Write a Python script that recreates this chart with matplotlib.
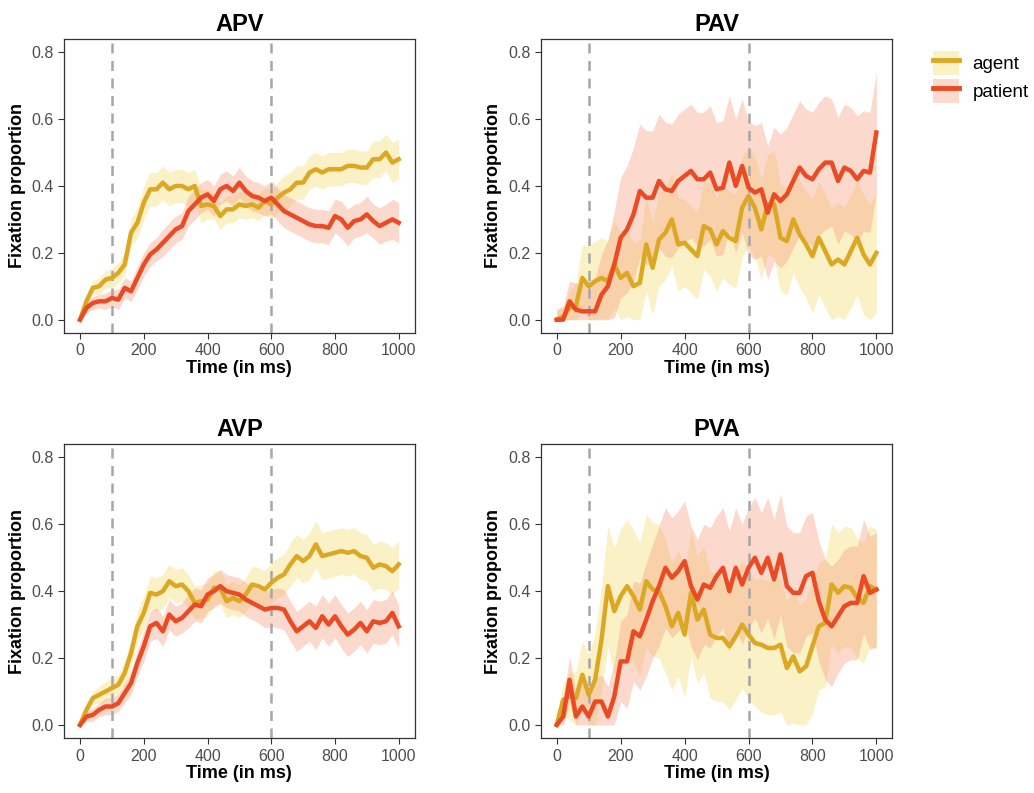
import numpy as np
import matplotlib
matplotlib.use('Agg')
import matplotlib.pyplot as plt
from matplotlib.patches import Patch
from matplotlib.lines import Line2D

plt.rcParams['font.family'] = ['Liberation Sans', 'DejaVu Sans']

#time bins, one sample every 20 ms
time_ms = np.arange(0, 1001, 20)

apv_agent = [0.0,0.055,0.095,0.10,0.12,0.125,0.14,0.165,0.26,0.29,0.35,
             0.39,0.39,0.41,0.39,0.40,0.40,0.39,0.40,0.34,0.345,
             0.34,0.31,0.33,0.33,0.345,0.34,0.345,0.335,0.355,0.345,
             0.365,0.38,0.39,0.41,0.41,0.44,0.45,0.44,0.45,0.45,
             0.45,0.46,0.46,0.455,0.455,0.48,0.48,0.50,0.47,0.48]
apv_agent_hw = [0.005,0.015,0.02,0.025,0.025,0.03,0.03,0.035,0.04,0.045,0.05,
                0.05,0.05,0.05,0.05,0.05,0.05,0.05,0.05,0.05,0.045,
                0.04,0.04,0.04,0.04,0.04,0.04,0.04,0.04,0.04,0.045,
                0.045,0.05,0.05,0.05,0.05,0.05,0.05,0.05,0.05,0.05,
                0.05,0.05,0.05,0.05,0.05,0.055,0.055,0.055,0.06,0.06]
apv_patient = [0.0,0.035,0.05,0.055,0.055,0.065,0.06,0.095,0.085,0.125,0.165,
               0.195,0.21,0.23,0.25,0.27,0.28,0.325,0.345,0.365,0.375,
               0.355,0.39,0.40,0.385,0.41,0.385,0.37,0.365,0.355,0.365,
               0.345,0.325,0.315,0.305,0.295,0.285,0.28,0.28,0.275,0.31,
               0.30,0.275,0.295,0.30,0.315,0.295,0.28,0.29,0.30,0.29]
apv_patient_hw = [0.005,0.015,0.02,0.02,0.025,0.025,0.03,0.03,0.03,0.035,0.035,
                  0.035,0.035,0.04,0.04,0.04,0.04,0.045,0.045,0.045,0.045,
                  0.045,0.045,0.045,0.045,0.045,0.045,0.045,0.045,0.045,0.05,
                  0.05,0.05,0.05,0.05,0.05,0.05,0.05,0.05,0.05,0.05,
                  0.055,0.055,0.05,0.05,0.055,0.05,0.055,0.055,0.06,0.06]

pav_agent = [0.0,0.01,0.035,0.04,0.125,0.10,0.115,0.125,0.115,0.165,0.125,
             0.14,0.10,0.11,0.225,0.155,0.24,0.26,0.30,0.225,0.23,
             0.21,0.19,0.28,0.27,0.225,0.265,0.245,0.235,0.335,0.37,
             0.335,0.27,0.345,0.345,0.245,0.235,0.30,0.255,0.225,0.19,
             0.245,0.205,0.165,0.18,0.165,0.205,0.245,0.195,0.165,0.20]
pav_agent_hw = [0.03,0.03,0.05,0.07,0.1,0.12,0.12,0.12,0.12,0.13,0.13,
                0.13,0.13,0.13,0.14,0.14,0.14,0.14,0.14,0.14,0.13,
                0.13,0.13,0.13,0.14,0.14,0.14,0.14,0.14,0.15,0.15,
                0.15,0.15,0.15,0.16,0.16,0.16,0.16,0.16,0.16,0.17,
                0.17,0.17,0.17,0.17,0.17,0.17,0.17,0.18,0.18,0.18]
pav_patient = [0.0,0.0,0.055,0.03,0.025,0.025,0.025,0.075,0.10,0.165,0.245,
               0.27,0.315,0.385,0.365,0.365,0.415,0.39,0.385,0.415,0.43,
               0.445,0.42,0.42,0.44,0.39,0.395,0.47,0.40,0.46,0.395,
               0.38,0.39,0.32,0.375,0.355,0.375,0.415,0.455,0.43,0.42,
               0.45,0.47,0.47,0.415,0.455,0.445,0.42,0.445,0.44,0.56]
pav_patient_hw = [0.03,0.04,0.06,0.08,0.08,0.09,0.1,0.12,0.14,0.16,0.18,
                  0.19,0.2,0.2,0.2,0.2,0.2,0.2,0.2,0.2,0.2,
                  0.2,0.2,0.2,0.2,0.2,0.2,0.2,0.2,0.2,0.2,
                  0.2,0.2,0.2,0.2,0.2,0.2,0.2,0.2,0.2,0.2,
                  0.2,0.2,0.19,0.19,0.19,0.19,0.19,0.18,0.18,0.18]

avp_agent = [0.0,0.045,0.08,0.09,0.10,0.11,0.12,0.155,0.215,0.295,0.335,
             0.395,0.39,0.40,0.43,0.415,0.42,0.40,0.365,0.37,0.375,
             0.41,0.41,0.37,0.38,0.37,0.39,0.42,0.415,0.405,0.425,
             0.44,0.45,0.48,0.505,0.49,0.505,0.54,0.505,0.51,0.515,
             0.52,0.515,0.52,0.505,0.50,0.47,0.48,0.475,0.46,0.48]
avp_agent_hw = [0.005,0.015,0.02,0.025,0.03,0.03,0.03,0.035,0.04,0.045,0.05,
                0.05,0.05,0.05,0.05,0.05,0.05,0.05,0.05,0.05,0.05,
                0.05,0.05,0.05,0.05,0.05,0.05,0.055,0.055,0.055,0.06,
                0.06,0.06,0.065,0.065,0.065,0.07,0.07,0.07,0.07,0.07,
                0.07,0.07,0.07,0.07,0.07,0.07,0.07,0.07,0.07,0.07]
avp_patient = [0.0,0.025,0.03,0.045,0.055,0.055,0.065,0.095,0.125,0.185,0.235,
               0.295,0.305,0.28,0.33,0.31,0.32,0.34,0.36,0.355,0.39,
               0.40,0.415,0.40,0.395,0.39,0.375,0.365,0.355,0.345,0.35,
               0.35,0.345,0.31,0.28,0.295,0.31,0.29,0.325,0.30,0.325,
               0.295,0.27,0.285,0.305,0.28,0.31,0.305,0.31,0.335,0.295]
avp_patient_hw = [0.005,0.015,0.02,0.02,0.025,0.025,0.025,0.03,0.035,0.04,0.045,
                  0.045,0.045,0.045,0.045,0.045,0.045,0.05,0.05,0.05,0.05,
                  0.05,0.05,0.05,0.05,0.05,0.05,0.05,0.05,0.055,0.055,
                  0.06,0.06,0.06,0.06,0.06,0.06,0.065,0.065,0.065,0.065,
                  0.065,0.065,0.065,0.065,0.065,0.065,0.065,0.065,0.065,0.065]

pva_agent = [0.0,0.075,0.085,0.08,0.15,0.09,0.135,0.255,0.415,0.34,0.385,
             0.415,0.385,0.345,0.43,0.405,0.40,0.355,0.295,0.335,0.27,
             0.395,0.315,0.345,0.27,0.26,0.26,0.235,0.265,0.30,0.27,
             0.245,0.24,0.23,0.23,0.24,0.17,0.205,0.16,0.175,0.235,
             0.295,0.305,0.42,0.395,0.415,0.41,0.38,0.365,0.415,0.405]
pva_agent_hw = [0.02,0.05,0.07,0.08,0.1,0.12,0.14,0.16,0.18,0.19,0.2,
                0.2,0.2,0.2,0.2,0.2,0.2,0.2,0.19,0.19,0.19,
                0.19,0.19,0.19,0.19,0.19,0.19,0.19,0.19,0.19,0.19,
                0.19,0.2,0.2,0.2,0.2,0.2,0.2,0.2,0.2,0.2,
                0.19,0.19,0.18,0.18,0.18,0.18,0.18,0.18,0.18,0.18]
pva_patient = [0.0,0.025,0.135,0.025,0.055,0.025,0.07,0.07,0.025,0.085,0.19,
               0.19,0.28,0.265,0.315,0.37,0.415,0.47,0.44,0.46,0.49,
               0.415,0.375,0.42,0.41,0.445,0.47,0.40,0.47,0.42,0.47,
               0.50,0.455,0.50,0.435,0.51,0.415,0.395,0.395,0.445,0.455,
               0.37,0.315,0.295,0.325,0.355,0.365,0.365,0.445,0.395,0.405]
pva_patient_hw = [0.02,0.05,0.07,0.07,0.07,0.07,0.07,0.08,0.09,0.1,0.12,
                  0.14,0.15,0.16,0.17,0.17,0.18,0.18,0.18,0.18,0.18,
                  0.18,0.18,0.18,0.18,0.18,0.18,0.18,0.18,0.18,0.18,
                  0.18,0.18,0.18,0.18,0.18,0.18,0.18,0.18,0.18,0.18,
                  0.18,0.18,0.18,0.17,0.17,0.17,0.17,0.17,0.17,0.17]

panel_titles = ['APV', 'PAV', 'AVP', 'PVA']
series_names = ['agent', 'patient']
panels = [
    (apv_agent, apv_agent_hw, apv_patient, apv_patient_hw),
    (pav_agent, pav_agent_hw, pav_patient, pav_patient_hw),
    (avp_agent, avp_agent_hw, avp_patient, avp_patient_hw),
    (pva_agent, pva_agent_hw, pva_patient, pva_patient_hw),
]
region_marks = [100, 600]

line_colors = ['#DCA823', '#EA4A24']
fill_colors = ['#F3DF72', '#F7A083']
fill_alpha = 0.4

fig = plt.figure(figsize=(10.34, 7.93), dpi=100)
boxes = [(0.062, 0.580, 0.339, 0.371), (0.523, 0.580, 0.340, 0.371),
         (0.062, 0.069, 0.339, 0.371), (0.523, 0.069, 0.340, 0.371)]

for box, title, (ag, ag_hw, pa, pa_hw) in zip(boxes, panel_titles, panels):
    ax = fig.add_axes(box)
    for vals, hw, lc, fc in [(ag, ag_hw, line_colors[0], fill_colors[0]),
                             (pa, pa_hw, line_colors[1], fill_colors[1])]:
        vals = np.array(vals)
        hw = np.array(hw)
        lo = np.clip(vals - hw, 0, None)
        hi = vals + hw
        ax.fill_between(time_ms, lo, hi, color=fc, alpha=fill_alpha, lw=0, zorder=1)
    for vals, lc in [(ag, line_colors[0]), (pa, line_colors[1])]:
        ax.plot(time_ms, vals, color=lc, lw=3.2, solid_joinstyle='round', zorder=3)
    for xm in region_marks:
        ax.axvline(xm, color='#A6A6A6', lw=1.8, ls=(0, (4, 3)), zorder=2)

    ax.set_xlim(-50, 1050)
    ax.set_ylim(-0.04, 0.84)
    ax.set_xticks([0, 200, 400, 600, 800, 1000])
    ax.set_yticks([0.0, 0.2, 0.4, 0.6, 0.8])
    ax.set_yticklabels(['0.0', '0.2', '0.4', '0.6', '0.8'])
    ax.set_title(title, fontsize=17, fontweight='bold', pad=6)
    ax.set_xlabel('Time (in ms)', fontsize=13, fontweight='bold', labelpad=1)
    ax.set_ylabel('Fixation proportion', fontsize=13, fontweight='bold', labelpad=4)
    ax.tick_params(labelsize=11.5, labelcolor='#4D4D4D', color='#333333', length=4, width=0.8)
    for sp in ax.spines.values():
        sp.set_color('#333333')
        sp.set_linewidth(0.9)

handles = [(Patch(facecolor=fill_colors[i], alpha=fill_alpha, lw=0),
            Line2D([], [], color=line_colors[i], lw=3.5)) for i in range(2)]
fig.legend(handles, series_names, loc='upper left', bbox_to_anchor=(0.895, 0.945),
           frameon=False, fontsize=13.5, handlelength=1.4, handleheight=1.6,
           handletextpad=0.7, labelspacing=0.2, borderaxespad=0)

fig.savefig('out.png', dpi=100, facecolor='white')
